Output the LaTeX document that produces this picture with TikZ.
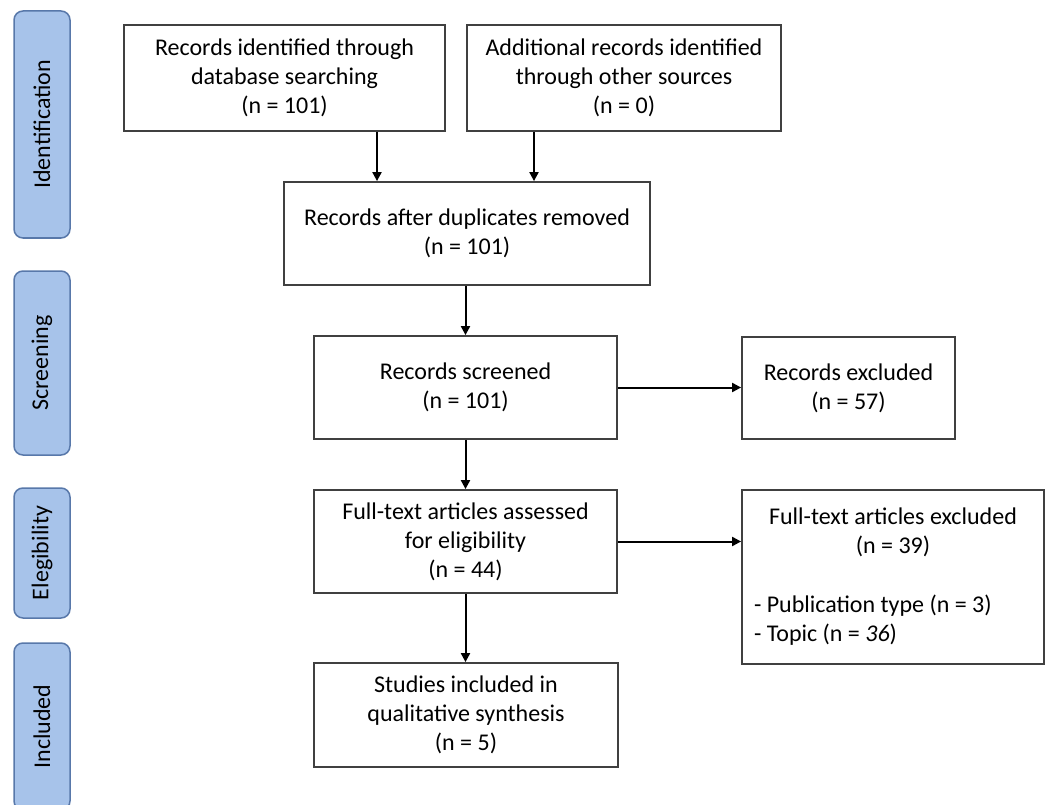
\documentclass[tikz,border=0pt]{standalone}
\usepackage{fontspec}
\setmainfont{Carlito}
\usetikzlibrary{arrows.meta}
\definecolor{sidefill}{RGB}{167,195,234}
\definecolor{sidedraw}{RGB}{88,120,170}
\definecolor{boxdraw}{RGB}{64,64,64}
\begin{document}
\begin{tikzpicture}[x=1pt,y=-1pt,
  box/.style={draw=boxdraw, line width=1.8pt, fill=white, align=center, inner sep=0pt,
    font=\fontsize{24}{29}\selectfont},
  side/.style={draw=sidedraw, fill=sidefill, line width=1.5pt, rounded corners=9pt,
    inner sep=0pt, rotate=90, font=\fontsize{24}{29}\selectfont},
  arr/.style={-{Triangle[length=9pt,width=9pt]}, line width=2pt, black}]
\useasboundingbox (0,0) rectangle (1052,805);
\clip (0,0) rectangle (1052,805);
\fill[white] (0,0) rectangle (1052,805);

% phase labels
\node[side, minimum width=227pt, minimum height=56pt] (s1) at (42,124.5) {Identification};
\node[side, minimum width=184pt, minimum height=56pt] (s2) at (42,363) {Screening};
\node[side, minimum width=130pt, minimum height=56pt] (s3) at (42,553) {Elegibility};
\node[side, minimum width=167pt, minimum height=56pt] (s4) at (42,726.5) {Included};

% boxes
\node[box, minimum width=321pt, minimum height=106pt] (A) at (284.5,78)
  {Records identified through\\database searching\\(n = 101)};
\node[box, minimum width=314pt, minimum height=106pt] (B) at (624,78)
  {Additional records identified\\through other sources\\(n = 0)};
\node[box, minimum width=366pt, minimum height=103pt] (C) at (467,233.5)
  {Records after duplicates removed\\(n = 101)};
\node[box, minimum width=303pt, minimum height=103pt] (D) at (465.5,387.5)
  {Records screened\\(n = 101)};
\node[box, minimum width=213pt, minimum height=102pt] (E) at (848.5,388)
  {Records excluded\\(n = 57)};
\node[box, minimum width=302pt, minimum height=174pt, align=left] (G) at (893,577)
  {\makebox[278pt]{Full-text articles excluded}\\
   \makebox[278pt]{(n = 39)}\\[30pt]
   - Publication type (n = 3)\\
   - Topic (n = \textit{36})};
\node[box, minimum width=303pt, minimum height=103pt] (F) at (465.5,541.5)
  {Full-text articles assessed\\for eligibility\\(n = 44)};
\node[box, minimum width=304pt, minimum height=104pt] (H) at (466,715)
  {Studies included in\\qualitative synthesis\\(n = 5)};

% connectors
\coordinate (xa) at (377,0);
\coordinate (xb) at (534,0);
\draw[arr] (A.south -| xa) -- (C.north -| xa);
\draw[arr] (B.south -| xb) -- (C.north -| xb);
\draw[arr] (C.south -| D.north) -- (D.north);
\draw[arr] (D.east) -- (E.west |- D.east);
\draw[arr] (D.south) -- (F.north);
\draw[arr] (F.east) -- (G.west |- F.east);
\draw[arr] (F.south) -- (H.north -| F.south);
\end{tikzpicture}
\end{document}
